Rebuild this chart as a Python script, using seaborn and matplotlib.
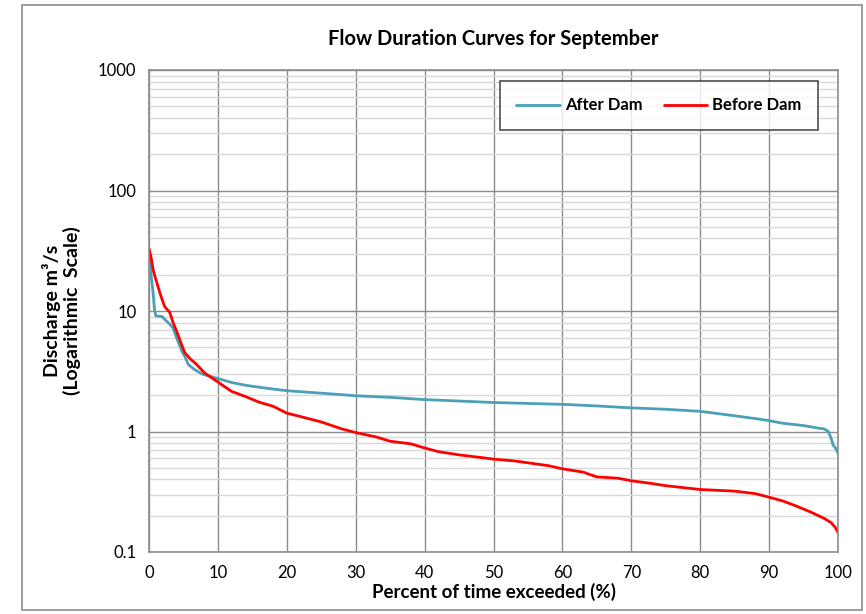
import matplotlib
matplotlib.use("Agg")
import matplotlib.pyplot as plt
import matplotlib.ticker as mticker
from matplotlib.patches import Rectangle
from matplotlib.lines import Line2D
import seaborn as sns
import pandas as pd

after_x = [0, 0.3, 0.6, 0.8, 1.0, 1.9, 2.3, 3.0, 3.5, 4.0, 4.8, 5.2, 5.7, 6.5, 7.7, 9.0, 10, 12, 14, 16, 18,
           20, 25, 30, 35, 40, 45, 50, 55, 60, 65, 70, 75, 80, 85, 88, 90, 92, 95, 97, 98, 98.6, 99.0, 99.3, 99.7, 100]
after_y = [32, 20, 14, 10.2, 9.1, 9.0, 8.5, 7.8, 7.2, 6.0, 4.6, 4.2, 3.6, 3.3, 3.0, 2.85, 2.75, 2.55, 2.42, 2.33, 2.25,
           2.18, 2.08, 1.98, 1.92, 1.84, 1.79, 1.74, 1.71, 1.68, 1.63, 1.57, 1.53, 1.47, 1.35, 1.28, 1.23, 1.17, 1.12,
           1.07, 1.05, 1.0, 0.88, 0.77, 0.72, 0.66]

before_x = [0, 0.3, 0.6, 0.9, 1.3, 1.6, 2.0, 2.3, 3.0, 3.5, 4.1, 4.6, 5.2, 6.0, 6.7, 8.1, 9.9, 11, 12, 14, 16, 18,
            20, 22, 25, 28, 30, 33, 35, 38, 40, 42, 45, 48, 50, 53, 55, 58, 60, 63, 65, 68, 70, 73, 75, 78, 80, 85,
            88, 90, 92, 94, 96, 98, 99, 99.6, 100]
before_y = [33, 28, 22, 19, 16, 14, 12, 10.8, 9.8, 8.0, 6.6, 5.5, 4.5, 4.0, 3.7, 3.05, 2.6, 2.35, 2.15, 1.95, 1.75,
            1.62, 1.42, 1.33, 1.2, 1.05, 0.98, 0.9, 0.83, 0.79, 0.73, 0.68, 0.64, 0.61, 0.59, 0.57, 0.55, 0.52, 0.49,
            0.46, 0.42, 0.41, 0.39, 0.37, 0.355, 0.34, 0.33, 0.32, 0.305, 0.285, 0.265, 0.24, 0.215, 0.19, 0.175,
            0.16, 0.145]

series_names = ["After Dam", "Before Dam"]
colors = ["#4BA0B8", "#FF0000"]
x_ticks = [0, 10, 20, 30, 40, 50, 60, 70, 80, 90, 100]
y_ticks = [0.1, 1, 10, 100, 1000]
y_tick_labels = ["0.1", "1", "10", "100", "1000"]

df = pd.concat([
    pd.DataFrame({"x": after_x, "y": after_y, "series": series_names[0]}),
    pd.DataFrame({"x": before_x, "y": before_y, "series": series_names[1]}),
], ignore_index=True)

sns.set_style("white")
plt.rcParams["font.family"] = ["Lato", "DejaVu Sans"]
plt.rcParams["text.color"] = "black"
plt.rcParams["axes.labelcolor"] = "black"
plt.rcParams["xtick.color"] = "black"
plt.rcParams["ytick.color"] = "black"

fig = plt.figure(figsize=(8.66, 6.14), dpi=100)
ax = fig.add_axes([149/866, 1-552/614, (838-149)/866, (552-70)/614])

ax.set_yscale("log")
ax.set_xlim(0, 100)
ax.set_ylim(0.1, 1000)

ax.yaxis.set_minor_locator(mticker.LogLocator(base=10, subs=range(2, 10)))
ax.yaxis.set_minor_formatter(mticker.NullFormatter())
ax.grid(True, which="minor", axis="y", color="#d9d9d9", lw=1.0, zorder=0)
ax.grid(True, which="major", axis="y", color="#8c8c8c", lw=1.0, zorder=0)
ax.grid(True, which="major", axis="x", color="#8c8c8c", lw=1.0, zorder=0)
ax.set_axisbelow(True)

sns.lineplot(data=df, x="x", y="y", hue="series", palette=colors, linewidth=2.0, ax=ax,
             sort=False, estimator=None, legend=False)

ax.set_xticks(x_ticks)
ax.set_xticklabels([str(t) for t in x_ticks], fontsize=12)
ax.set_yticks(y_ticks)
ax.set_yticklabels(y_tick_labels, fontsize=12)
ax.tick_params(axis="both", which="major", direction="out", length=5, color="#8c8c8c", width=1, pad=4,
               labelcolor="black")
ax.tick_params(axis="y", which="minor", length=0)
for s in ax.spines.values():
    s.set_color("#8c8c8c")
    s.set_linewidth(1.2)

ax.set_title("Flow Duration Curves for September", fontsize=14.5, fontweight="bold", pad=18, color="black")
ax.set_xlabel("Percent of time exceeded (%)", fontsize=13.5, fontweight="bold", labelpad=2, color="black")
ax.set_ylabel("Discharge m³/s\n(Logarithmic  Scale)", fontsize=14, fontweight="bold", labelpad=12,
              color="black", linespacing=1.15)

handles = [Line2D([0], [0], color=c, lw=2.0) for c in colors]
leg = ax.legend(handles, series_names, loc="center",
                bbox_to_anchor=((497-149)/689, (552-133)/482, (821-497)/689, (133-78)/482),
                ncol=2, frameon=True, fancybox=False, fontsize=12, handlelength=2.6,
                columnspacing=1.3, handletextpad=0.3, borderpad=1.0)
leg.get_frame().set_edgecolor("#222222")
leg.get_frame().set_linewidth(1.2)
for t in leg.get_texts():
    t.set_fontweight("bold")
    t.set_color("black")

fig.patches.append(Rectangle((22/866, 1-610/614), (862-22)/866, (610-5)/614, transform=fig.transFigure,
                             fill=False, edgecolor="#8c8c8c", lw=1.2))

fig.savefig("out.png", dpi=100)
